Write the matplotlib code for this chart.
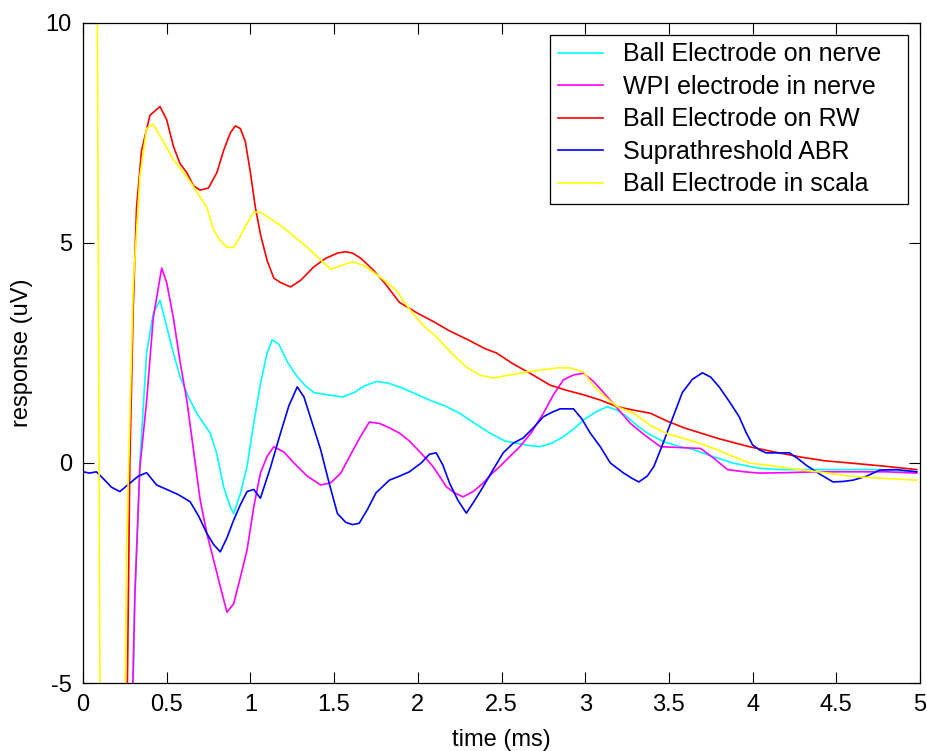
import numpy as np
import matplotlib
matplotlib.use('Agg')
from matplotlib import pyplot as plt

# Ball Electrode on nerve
t_nerve = [0.25, 0.29, 0.31, 0.34, 0.38, 0.42, 0.46, 0.50, 0.54, 0.58, 0.63, 0.68, 0.72, 0.76, 0.80,
           0.84, 0.88, 0.90, 0.94, 0.98, 1.02, 1.06, 1.10, 1.13, 1.17, 1.22, 1.28, 1.33, 1.38, 1.46,
           1.55, 1.62, 1.68, 1.75, 1.82, 1.91, 2.00, 2.07, 2.16, 2.25, 2.34, 2.43, 2.52, 2.59, 2.66,
           2.73, 2.80, 2.87, 2.94, 2.99, 3.06, 3.13, 3.19, 3.25, 3.31, 3.37, 3.47, 3.56, 3.65, 3.76,
           3.88, 4.04, 4.16, 4.28, 4.43, 4.58, 4.75, 4.98]
v_nerve = [-10, -7, -3, 0, 2.5, 3.4, 3.7, 3.1, 2.5, 1.96, 1.5, 1.13, 0.9, 0.68, 0.2,
           -0.54, -1.0, -1.15, -0.7, -0.08, 0.9, 1.8, 2.5, 2.8, 2.7, 2.3, 1.96, 1.75, 1.6, 1.55,
           1.5, 1.6, 1.75, 1.85, 1.82, 1.7, 1.55, 1.43, 1.3, 1.13, 0.9, 0.68, 0.5, 0.45, 0.4,
           0.37, 0.45, 0.6, 0.8, 0.98, 1.15, 1.28, 1.2, 1.05, 0.85, 0.68, 0.48, 0.38, 0.3, 0.15,
           0, -0.12, -0.15, -0.15, -0.15, -0.15, -0.15, -0.2]

# WPI electrode in nerve
t_wpi = [0.25, 0.28, 0.31, 0.34, 0.38, 0.42, 0.47, 0.50, 0.54, 0.58, 0.62, 0.66, 0.70, 0.74, 0.78,
         0.82, 0.86, 0.90, 0.94, 0.98, 1.02, 1.06, 1.10, 1.14, 1.20, 1.26, 1.34, 1.42, 1.48, 1.54,
         1.60, 1.65, 1.71, 1.77, 1.83, 1.89, 1.95, 2.00, 2.05, 2.09, 2.13, 2.17, 2.22, 2.27, 2.33,
         2.39, 2.44, 2.49, 2.55, 2.61, 2.68, 2.75, 2.81, 2.87, 2.93, 2.99, 3.05, 3.11, 3.19, 3.27,
         3.36, 3.45, 3.57, 3.69, 3.77, 3.85, 3.95, 4.04, 4.20, 4.38, 4.60, 4.80, 4.98]
v_wpi = [-10, -8, -3, -0.1, 1.4, 3.3, 4.43, 4.1, 3.3, 2.3, 1.43, 0.3, -0.84, -1.6, -2.2,
         -2.8, -3.39, -3.2, -2.6, -1.98, -1.0, -0.23, 0.15, 0.37, 0.25, 0, -0.3, -0.5, -0.45, -0.23,
         0.2, 0.55, 0.93, 0.9, 0.8, 0.68, 0.5, 0.3, 0.1, -0.08, -0.3, -0.54, -0.68, -0.77, -0.65,
         -0.46, -0.25, -0.08, 0.15, 0.37, 0.7, 1.13, 1.55, 1.89, 2.0, 2.04, 1.85, 1.6, 1.25, 0.9,
         0.62, 0.37, 0.35, 0.33, 0.1, -0.15, -0.2, -0.23, -0.22, -0.2, -0.2, -0.2, -0.23]

# Ball Electrode on RW
t_rw = [0.25, 0.27, 0.28, 0.30, 0.32, 0.35, 0.40, 0.46, 0.50, 0.54, 0.58, 0.62, 0.66, 0.70, 0.75,
        0.80, 0.84, 0.88, 0.91, 0.94, 0.97, 1.00, 1.03, 1.06, 1.10, 1.14, 1.18, 1.24, 1.30, 1.38,
        1.45, 1.52, 1.57, 1.61, 1.66, 1.73, 1.80, 1.89, 2.00, 2.10, 2.19, 2.30, 2.40, 2.47, 2.57,
        2.67, 2.79, 2.89, 2.99, 3.09, 3.19, 3.29, 3.39, 3.49, 3.59, 3.69, 3.80, 3.98, 4.13, 4.28,
        4.43, 4.58, 4.78, 4.98]
v_rw = [-10, -3.5, 0, 3.5, 5.8, 7.1, 7.9, 8.1, 7.8, 7.2, 6.8, 6.6, 6.3, 6.2, 6.25,
        6.6, 7.1, 7.5, 7.66, 7.6, 7.3, 6.6, 5.8, 5.2, 4.6, 4.2, 4.1, 4.0, 4.15, 4.46,
        4.65, 4.77, 4.8, 4.77, 4.65, 4.4, 4.1, 3.65, 3.4, 3.2, 3.0, 2.8, 2.6, 2.5, 2.25,
        2.04, 1.77, 1.65, 1.55, 1.43, 1.28, 1.2, 1.13, 0.95, 0.8, 0.68, 0.55, 0.37, 0.25, 0.14,
        0.05, 0, -0.07, -0.15]

# Suprathreshold ABR
t_abr = [0, 0.04, 0.08, 0.12, 0.17, 0.22, 0.28, 0.33, 0.38, 0.44, 0.50, 0.57, 0.64, 0.69, 0.74,
         0.78, 0.82, 0.86, 0.90, 0.94, 0.98, 1.02, 1.06, 1.12, 1.18, 1.23, 1.28, 1.32, 1.37, 1.42,
         1.47, 1.52, 1.57, 1.61, 1.65, 1.70, 1.75, 1.83, 1.89, 1.95, 2.02, 2.07, 2.11, 2.15, 2.19,
         2.24, 2.29, 2.34, 2.39, 2.45, 2.51, 2.57, 2.63, 2.69, 2.75, 2.80, 2.85, 2.93, 2.98, 3.03,
         3.09, 3.15, 3.23, 3.28, 3.32, 3.37, 3.41, 3.46, 3.51, 3.58, 3.64, 3.70, 3.75, 3.80, 3.86,
         3.92, 3.96, 4.00, 4.04, 4.08, 4.15, 4.22, 4.27, 4.32, 4.40, 4.48, 4.54, 4.60, 4.68, 4.76,
         4.86, 4.98]
v_abr = [-0.2, -0.23, -0.2, -0.35, -0.55, -0.65, -0.46, -0.3, -0.22, -0.5, -0.6, -0.72, -0.88, -1.2, -1.6,
         -1.85, -2.02, -1.7, -1.3, -0.95, -0.65, -0.6, -0.8, -0.1, 0.68, 1.3, 1.73, 1.5, 0.9, 0.3,
         -0.45, -1.15, -1.35, -1.4, -1.37, -1.05, -0.68, -0.39, -0.3, -0.2, 0, 0.2, 0.23, -0.05, -0.46,
         -0.85, -1.14, -0.85, -0.54, -0.15, 0.23, 0.45, 0.57, 0.8, 1.05, 1.15, 1.23, 1.23, 1.0, 0.68,
         0.37, 0, -0.23, -0.35, -0.43, -0.3, -0.08, 0.4, 0.9, 1.6, 1.9, 2.05, 1.95, 1.73, 1.4,
         1.05, 0.7, 0.41, 0.3, 0.23, 0.23, 0.23, 0.1, -0.05, -0.25, -0.43, -0.42, -0.39, -0.3, -0.16,
         -0.15, -0.2]

# Ball Electrode in scala
t_scala = [0, 0.08, 0.09, 0.10, 0.11, 0.24, 0.26, 0.28, 0.30, 0.34, 0.38, 0.42, 0.48, 0.54, 0.59,
           0.64, 0.69, 0.74, 0.78, 0.82, 0.86, 0.90, 0.94, 0.98, 1.02, 1.06, 1.12, 1.18, 1.26, 1.34,
           1.41, 1.48, 1.55, 1.61, 1.67, 1.73, 1.80, 1.87, 1.92, 1.97, 2.04, 2.11, 2.20, 2.29, 2.37,
           2.45, 2.55, 2.65, 2.75, 2.83, 2.91, 2.99, 3.05, 3.12, 3.19, 3.29, 3.39, 3.50, 3.58, 3.68,
           3.79, 3.88, 3.98, 4.13, 4.28, 4.43, 4.58, 4.78, 4.98]
v_scala = [20, 15, 6.3, -4, -10, -10, -2, 1, 4, 6.5, 7.6, 7.7, 7.3, 6.9, 6.65,
           6.4, 6.1, 5.8, 5.3, 5.05, 4.9, 4.9, 5.15, 5.45, 5.7, 5.7, 5.55, 5.4, 5.15, 4.9,
           4.65, 4.4, 4.5, 4.57, 4.5, 4.35, 4.15, 3.93, 3.65, 3.4, 3.1, 2.87, 2.5, 2.18, 2.0,
           1.93, 2.0, 2.07, 2.12, 2.16, 2.16, 2.07, 1.75, 1.5, 1.28, 1.13, 0.85, 0.65, 0.57, 0.45,
           0.3, 0.15, 0, -0.07, -0.15, -0.22, -0.3, -0.35, -0.39]

labels = ['Ball Electrode on nerve', 'WPI electrode in nerve', 'Ball Electrode on RW',
          'Suprathreshold ABR', 'Ball Electrode in scala']
colors = ['#00ffff', '#ff00ff', '#ff0000', '#0000ff', '#ffff00']

plt.rcParams['font.family'] = ['Liberation Sans', 'DejaVu Sans']
plt.rcParams['font.size'] = 17
plt.rcParams['axes.unicode_minus'] = False

fig = plt.figure(figsize=(9.27, 7.51), dpi=100)
ax = fig.add_axes([0.0895, 0.0905, 0.903, 0.879])

series = [(t_nerve, v_nerve), (t_wpi, v_wpi), (t_rw, v_rw), (t_abr, v_abr), (t_scala, v_scala)]
for (t, v), lab, c in zip(series, labels, colors):
    ax.plot(t, v, color=c, lw=1.2, label=lab)

ax.set_xlim(0, 5)
ax.set_ylim(-5, 10)
ax.set_xticks(np.arange(0, 5.01, 0.5))
ax.set_xticklabels(['0', '0.5', '1', '1.5', '2', '2.5', '3', '3.5', '4', '4.5', '5'])
ax.set_yticks([-5, 0, 5, 10])
ax.tick_params(direction='in', top=True, right=True, length=8, width=0.8, pad=8)
for s in ax.spines.values():
    s.set_linewidth(0.9)
ax.set_xlabel('time (ms)', labelpad=9)
ax.set_ylabel('response (uV)', labelpad=9)

# legend box stretched to the width of the matlab one
leg = ax.legend(loc='upper left', bbox_to_anchor=(0.558, 0.0, 0.428, 0.982), mode='expand',
                fancybox=False, edgecolor='black', framealpha=1, fontsize=18,
                labelspacing=0.34, borderpad=0.3, handlelength=1.8, handletextpad=0.8,
                borderaxespad=0.0)
leg.get_frame().set_linewidth(0.9)

fig.savefig('out.png', dpi=100)
